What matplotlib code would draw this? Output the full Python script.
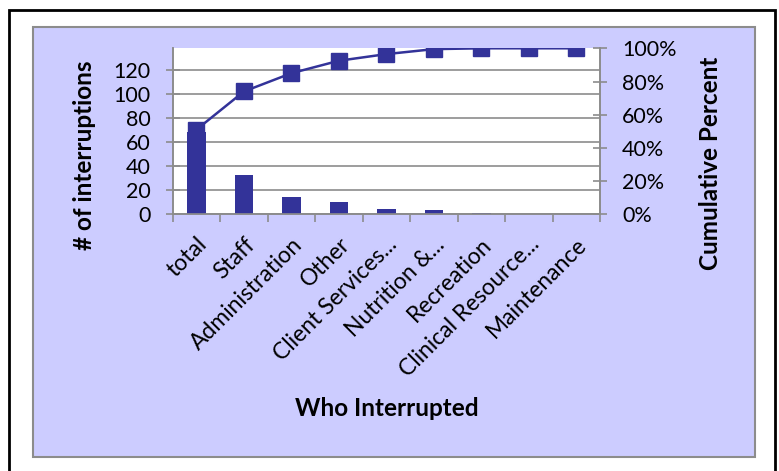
import matplotlib
matplotlib.use("Agg")
import matplotlib.pyplot as plt
from matplotlib.patches import Rectangle
import numpy as np

# values
categories = ['total', 'Staff', 'Administration', 'Other', 'Client Services...',
              'Nutrition &...', 'Recreation', 'Clinical Resource...', 'Maintenance']
interruptions = [68.5, 32.5, 14.5, 10.5, 4.5, 3.5, 0.7, 0, 0]
cumulative_pct = [51, 74, 85, 92.5, 96.5, 99.5, 100, 100, 100]

navy = '#333399'
grey = '#8c8c8c'
plt.rcParams['font.family'] = ['Lato', 'DejaVu Sans']

W, H = 779, 471
fig = plt.figure(figsize=(W / 100, H / 100), dpi=100)
fig.patch.set_facecolor('white')

# outer black frame and lavender chart area (behind the axes)
fig.add_artist(Rectangle((9 / W, 1 - 475 / H), 766 / W, 465 / H,
                         transform=fig.transFigure, facecolor='none',
                         edgecolor='black', linewidth=2, clip_on=False,
                         zorder=-10))
fig.add_artist(Rectangle((33 / W, 1 - 457 / H), 722 / W, 430 / H,
                         transform=fig.transFigure, facecolor='#ccccff',
                         edgecolor=grey, linewidth=1.5, zorder=-9))

ax = fig.add_axes([172.7 / W, 1 - 214.3 / H, 427.3 / W, 166 / H])
ax.set_facecolor('white')
x = np.arange(len(categories))

ax.bar(x, interruptions, width=0.39, color=navy, zorder=3)
ax.set_xlim(-0.5, len(categories) - 0.5)
ax.set_ylim(0, 138.3)
ax.set_yticks(range(0, 121, 20))
ax.yaxis.grid(True, color=grey, linewidth=1.2, zorder=0)
ax.set_axisbelow(True)
ax.tick_params(axis='y', labelsize=15.5, direction='inout', length=10,
               color=grey, width=1.2, pad=11)

ax.set_xticks(x)
ax.set_xticklabels(categories, rotation=45, ha='right', rotation_mode='anchor',
                   fontsize=16.5)
ax.tick_params(axis='x', which='major', length=0, pad=14)
ax.set_xticks(np.arange(-0.5, len(categories)), minor=True)
ax.tick_params(axis='x', which='minor', length=6, color=grey, width=1.2)

ax.spines['top'].set_visible(False)
for side in ['left', 'right', 'bottom']:
    ax.spines[side].set_color(grey)
    ax.spines[side].set_linewidth(1.2)

ax2 = ax.twinx()
ax2.plot(x, cumulative_pct, color=navy, linewidth=1.8, marker='s',
         markersize=11, zorder=4)
ax2.set_ylim(0, 100)
ax2.set_yticks(range(0, 101, 20))
ax2.set_yticklabels([f'{v}%' for v in range(0, 101, 20)])
ax2.tick_params(axis='y', labelsize=15.5, direction='inout', length=10,
                color=grey, width=1.2, pad=11)
ax2.spines['top'].set_visible(False)
for side in ['left', 'right', 'bottom']:
    ax2.spines[side].set_color(grey)
    ax2.spines[side].set_linewidth(1.2)

# axis titles placed where the reference has them
fig.text(84 / W, 1 - 155 / H, '# of interruptions', rotation=90, fontsize=17.5,
         fontweight='bold', ha='center', va='center')
fig.text(711 / W, 1 - 163 / H, 'Cumulative Percent', rotation=90, fontsize=17.5,
         fontweight='bold', ha='center', va='center')
fig.text(387 / W, 1 - 408 / H, 'Who Interrupted', fontsize=17.5,
         fontweight='bold', ha='center', va='center')

fig.savefig('out.png', dpi=100, facecolor='white')
